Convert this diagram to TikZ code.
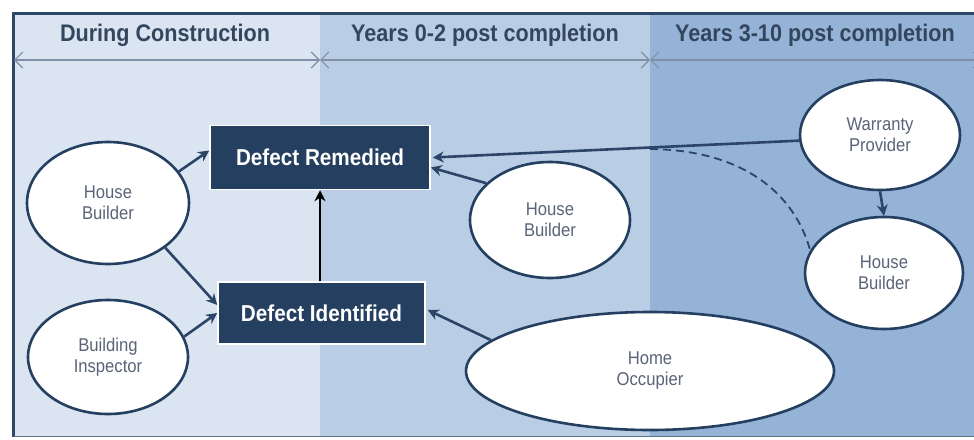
\documentclass[tikz,border=0pt]{standalone}
\usepackage{fontspec}
\setmainfont[FakeStretch=0.9]{Liberation Sans}
\usetikzlibrary{arrows.meta,shapes.geometric}
\definecolor{colA}{HTML}{DBE4F1}
\definecolor{colB}{HTML}{B9CDE5}
\definecolor{colC}{HTML}{95B3D7}
\definecolor{navy}{HTML}{243F60}
\definecolor{framec}{HTML}{2E4868}
\definecolor{hdr}{HTML}{34465E}
\definecolor{elltext}{HTML}{5A6478}
\definecolor{harrow}{HTML}{7F8FA6}
\definecolor{arr}{HTML}{2B4468}
\begin{document}
\begin{tikzpicture}[x=1pt,y=-1pt,
  ellip/.style={ellipse, draw=navy, line width=2.6pt, fill=white, inner sep=0pt,
    text=elltext, align=center, font=\fontsize{18.5}{21}\selectfont},
  defbox/.style={rectangle, draw=white, line width=1.5pt, fill=navy, inner sep=0pt,
    text=white, font=\fontsize{23}{26}\selectfont\bfseries},
  hdrtext/.style={text=hdr, font=\fontsize{24}{28}\selectfont\bfseries, inner sep=0pt},
  harr/.style={draw=harrow, line width=1.1pt, {Straight Barb[length=8pt,width=16pt]}-{Straight Barb[length=8pt,width=16pt]}},
  conn/.style={draw=arr, line width=2.6pt, -{Stealth[length=11pt,width=11pt]}},
]
\useasboundingbox (0,0) rectangle (974,439);
\fill[white] (0,0) rectangle (974,439);
\fill[colA] (12,12) rectangle (320,437);
\fill[colB] (320,12) rectangle (650,437);
\fill[colC] (650,12) rectangle (974,437);
\draw[framec, line width=3pt] (974,13.5) -- (13.5,13.5) -- (13.5,437);
\draw[harrow!80!black, line width=1.5pt] (13.5,436.5) -- (974,436.5);

% header
\node[hdrtext] (h1) at (165,35) {During Construction};
\node[hdrtext] (h2) at (485,35) {Years 0-2 post completion};
\node[hdrtext] (h3) at (815,35) {Years 3-10 post completion};
\coordinate (a0) at (14,60);
\coordinate (a1) at (320,60);
\coordinate (a2) at (650,60);
\coordinate (a3) at (982,60);
\draw[harr] (a0) -- (a1);
\draw[harr] (a1) -- (a2);
\draw[harr] (a2) -- (a3);

% boxes
\node[defbox, minimum width=220, minimum height=64] (dr) at (320,157.5) {Defect Remedied};
\node[defbox, minimum width=207, minimum height=62] (di) at (321.5,313) {Defect Identified};

% ellipses
\node[ellip, minimum width=162, minimum height=122] (hb1) at (108,203) {House\\Builder};
\node[ellip, minimum width=160, minimum height=114] (bi) at (108,357) {Building\\Inspector};
\node[ellip, minimum width=160, minimum height=116] (hb2) at (550,220) {House\\Builder};
\node[ellip, minimum width=368, minimum height=118] (ho) at (650,371) {Home\\Occupier};
\node[ellip, minimum width=160, minimum height=110] (wp) at (880,135) {Warranty\\Provider};
\node[ellip, minimum width=158, minimum height=112] (hb3) at (884,273) {House\\Builder};

% connectors
\draw[conn] (hb1.24) -- ([yshift=7pt]dr.west);
\draw[conn] (hb1.-38) -- ([yshift=8pt]di.west);
\draw[conn] (bi.15) -- ([yshift=0pt]di.west);
\draw[conn] (hb2.150) -- ([yshift=-10pt]dr.east);
\draw[conn] (wp.184) -- ([xshift=2pt]dr.east);
\draw[conn] (ho.169) -- ([xshift=2pt,yshift=3pt]di.east);
\draw[conn] (wp.south) -- (hb3.north);
\draw[black, line width=2.4pt, -{Stealth[length=11pt,width=11pt]}] (di.north -| dr.south) -- (dr.south);
\coordinate (dstart) at (650,149);
\draw[arr, line width=1.8pt, dash pattern=on 8pt off 5pt] (dstart) .. controls (745,150) and (795,195) .. (hb3.163);
\end{tikzpicture}
\end{document}
